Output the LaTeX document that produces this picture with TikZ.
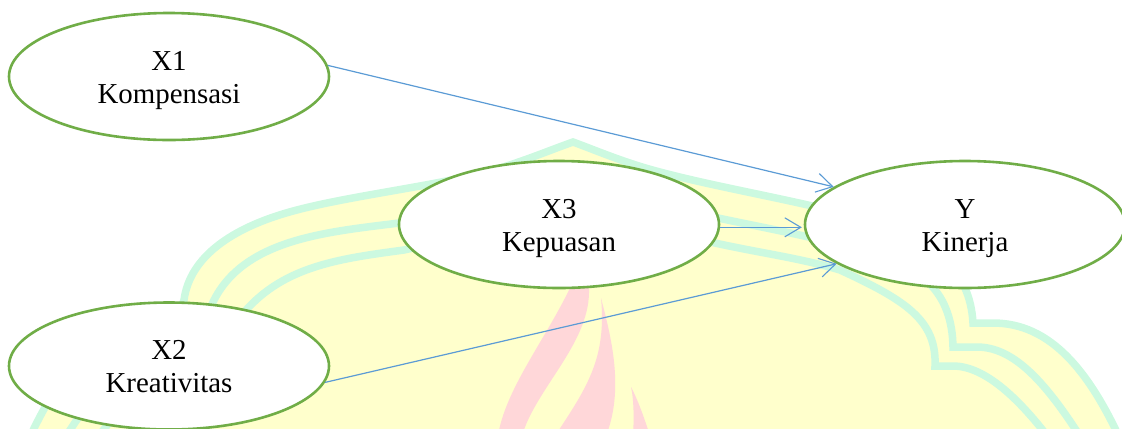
\documentclass[tikz,border=0pt]{standalone}
\usepackage{fontspec}
\setmainfont{Liberation Serif}
\usetikzlibrary{arrows.meta,shapes.geometric}
\definecolor{wmgreen}{HTML}{CCF9E0}
\definecolor{wmyellow}{HTML}{FFFFCC}
\definecolor{wmpink}{HTML}{FFD7D9}
\definecolor{nodegreen}{HTML}{70AD47}
\definecolor{linkblue}{HTML}{5B9BD5}
\tikzset{
  varnode/.style={ellipse,draw=nodegreen,line width=2.6bp,fill=white,minimum width=320bp,minimum height=127bp,inner sep=0pt,align=center,font=\fontsize{29}{33}\selectfont,text=black},
  link/.style={draw=linkblue,line width=1.2bp,-{Straight Barb[length=16bp,width=19bp,line width=1.1bp]}},
  band/.style={draw=wmgreen,line width=7.5bp,line join=miter,miter limit=10}
}
\newcommand{\twolines}[2]{#1\rule{0pt}{26.5bp}\\#2\rule[-6bp]{0pt}{6bp}}
\newcommand{\outerband}{(1125,450) .. controls (1090,370) and (1050,323) .. (993,323) -- (973,323)
  .. controls (970,270) and (935,240) .. (860,218)
  .. controls (800,201) and (720,188) .. (660,172)
  .. controls (625,163) and (595,150) .. (573,142)
  .. controls (550,150) and (520,163) .. (486,172)
  .. controls (430,187) and (340,197) .. (286,213)
  .. controls (235,228) and (190,255) .. (184,300)
  -- (175,323) -- (156,323)
  .. controls (99,323) and (59,370) .. (24,450)}
\begin{document}
\begin{tikzpicture}[x=1bp,y=-1bp]
\clip (0,0) rectangle (1122,428);
% watermark
\fill[wmyellow] \outerband -- cycle;
\fill[wmpink] (498,436) .. controls (505,390) and (545,340) .. (570,288) -- (590,270) -- (589,293) .. controls (588,345) and (535,390) .. (522,436) -- cycle;
\fill[wmpink] (555,436) .. controls (585,390) and (607,360) .. (601,298) .. controls (612,340) and (624,390) .. (606,436) -- cycle;
\fill[wmpink] (631,387) .. controls (638,400) and (645,420) .. (650,436) -- (633,436) .. controls (634,420) and (634,400) .. (631,387) -- cycle;
\draw[band] \outerband;
\draw[band] (1095,460) .. controls (1055,395) and (1020,347) .. (977,347) -- (953,347)
  .. controls (952,295) and (925,265) .. (860,250)
  .. controls (810,236) and (770,229) .. (718,218)
  -- (573,185) -- (399,223)
  .. controls (320,233) and (225,240) .. (205,325)
  -- (193,347) -- (169,347)
  .. controls (126,347) and (91,395) .. (51,460);
\draw[band] (1065,460) .. controls (1030,410) and (990,366) .. (953,366) -- (935,366)
  .. controls (937,320) and (905,300) .. (840,270)
  .. controls (800,258) and (760,253) .. (715,243)
  -- (573,212) -- (404,250)
  .. controls (330,260) and (265,268) .. (225,340)
  -- (211,366) -- (193,366)
  .. controls (156,366) and (116,410) .. (81,460);
% nodes
\node[varnode] (x1) at (169,76.5) {\twolines{X1}{Kompensasi}};
\node[varnode] (x2) at (169,366) {\twolines{X2}{Kreativitas}};
\node[varnode] (x3) at (559,224.5) {\twolines{X3}{Kepuasan}};
\node[varnode] (y) at (965,224.5) {\twolines{Y}{Kinerja}};
% connectors
\draw[link] (x1.4.5) -- (y.164.25);
\draw[link,shorten >=2bp] (x3.-1.4) -- (y.181.4);
\draw[link] (x2.-6.6) -- (y.197.5);
\end{tikzpicture}
\end{document}
